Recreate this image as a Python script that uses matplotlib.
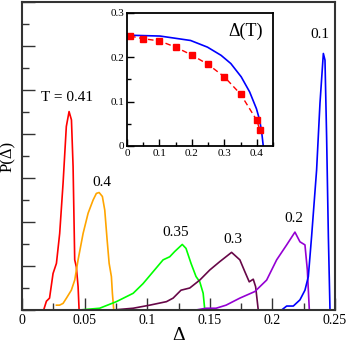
import matplotlib
matplotlib.use("Agg")
import matplotlib.pyplot as plt
from matplotlib.ticker import MultipleLocator

plt.rcParams['font.family'] = ['Liberation Serif', 'DejaVu Serif']
plt.rcParams['mathtext.fontset'] = 'stix'

# --- distributions P(Delta) at several T ---
d_041 = [0.0173, 0.0195, 0.0220, 0.0248, 0.0275, 0.0301, 0.0328, 0.0354, 0.0376, 0.0395, 0.0408, 0.0421, 0.0434, 0.0448, 0.0456]
p_041 = [0.00, 0.20, 0.27, 0.83, 1.06, 1.74, 2.88, 4.17, 4.51, 4.32, 3.26, 1.14, 0.98, 0.53, 0.00]

d_040 = [0.0275, 0.0300, 0.0328, 0.0355, 0.0394, 0.0421, 0.0448, 0.0488, 0.0528, 0.0568, 0.0594, 0.0616, 0.0642, 0.0661, 0.0680, 0.0696, 0.0714, 0.0722, 0.0733]
p_040 = [0.11, 0.11, 0.15, 0.27, 0.45, 0.68, 1.14, 1.74, 2.20, 2.50, 2.65, 2.67, 2.58, 2.27, 1.59, 1.06, 0.76, 0.38, 0.00]

d_035 = [0.046, 0.062, 0.0754, 0.0888, 0.0967, 0.1047, 0.1127, 0.118, 0.122, 0.128, 0.131, 0.135, 0.139, 0.142, 0.1447, 0.146]
p_035 = [0.00, 0.04, 0.19, 0.38, 0.60, 0.87, 1.14, 1.21, 1.33, 1.49, 1.40, 1.06, 0.76, 0.64, 0.38, 0.00]

d_030 = [0.0728, 0.0888, 0.102, 0.1154, 0.1207, 0.127, 0.134, 0.142, 0.150, 0.158, 0.1674, 0.174, 0.178, 0.1815, 0.1847, 0.1866, 0.1887]
p_030 = [0.00, 0.04, 0.11, 0.19, 0.27, 0.45, 0.50, 0.68, 0.91, 1.10, 1.31, 1.14, 0.87, 0.64, 0.70, 0.53, 0.00]

d_020 = [0.139, 0.147, 0.155, 0.163, 0.174, 0.186, 0.1954, 0.2034, 0.2114, 0.218, 0.222, 0.226, 0.2279, 0.2295]
p_020 = [0.00, 0.04, 0.04, 0.11, 0.27, 0.42, 0.68, 1.14, 1.48, 1.77, 1.55, 1.48, 0.91, 0.00]

d_010 = [0.2074, 0.2114, 0.2167, 0.222, 0.226, 0.2287, 0.2313, 0.2353, 0.238, 0.2407, 0.242, 0.2433, 0.2447, 0.246]
p_010 = [0.00, 0.09, 0.09, 0.23, 0.45, 0.76, 1.67, 3.18, 4.70, 5.83, 5.68, 3.94, 1.67, 0.00]

# curve labels: text, x, y
labels = ['T = 0.41', '0.4', '0.35', '0.3', '0.2', '0.1']
lab_x = [0.0357, 0.0639, 0.123, 0.1685, 0.2173, 0.238]
lab_y = [4.82, 2.89, 1.77, 1.61, 2.07, 6.27]

# --- inset: Delta(T) ---
T_line = [0.0, 0.102, 0.196, 0.248, 0.29, 0.32, 0.352, 0.378, 0.399, 0.409, 0.415, 0.42]
D_line = [0.250, 0.248, 0.238, 0.223, 0.2045, 0.186, 0.156, 0.122, 0.084, 0.058, 0.032, 0.0]
T_pts = [0.01, 0.05, 0.10, 0.15, 0.20, 0.25, 0.30, 0.35, 0.40, 0.41]
D_pts = [0.248, 0.242, 0.237, 0.223, 0.205, 0.184, 0.156, 0.117, 0.058, 0.035]

fig = plt.figure(figsize=(3.46, 3.46), dpi=100)
ax = fig.add_axes([22/346, 36/346, 313/346, 308/346])

lw = 1.2
ax.plot(d_041, p_041, color='#ff0000', lw=lw)
ax.plot(d_040, p_040, color='#ffa500', lw=lw)
ax.plot(d_035, p_035, color='#00ff00', lw=lw)
ax.plot(d_030, p_030, color='#670748', lw=lw)
ax.plot(d_020, p_020, color='#9400d3', lw=lw)
ax.plot(d_010, p_010, color='#0000ff', lw=lw)

ax.set_xlim(0, 0.25)
ax.set_ylim(0, 7)
ax.xaxis.set_major_locator(MultipleLocator(0.05))
ax.xaxis.set_minor_locator(MultipleLocator(0.025))
ax.yaxis.set_major_locator(MultipleLocator(1))
ax.yaxis.set_minor_locator(MultipleLocator(0.5))
ax.set_xticks([0, 0.05, 0.1, 0.15, 0.2, 0.25])
ax.set_xticklabels(['0', '0.05', '0.1', '0.15', '0.2', '0.25'])
ax.tick_params(which='both', direction='in', top=False, right=False, width=1.0, color='#333333')
ax.tick_params(which='major', length=9, labelsize=10, pad=3)
ax.tick_params(which='minor', length=5)
ax.tick_params(axis='y', labelleft=False)
for s in ax.spines.values():
    s.set_linewidth(1.5)
    s.set_color('#333333')

ax.set_xlabel('Δ', fontsize=14, labelpad=0)
ax.set_ylabel('P(Δ)', fontsize=12, labelpad=1)

for t, x, y in zip(labels, lab_x, lab_y):
    ax.text(x, y, t, fontsize=11, ha='center', va='center')

# inset
ins = fig.add_axes([127/346, 200/346, 146/346, 133/346])
ins.plot(T_line, D_line, color='#0000ff', lw=1.2)
ins.plot(T_pts, D_pts, color='#ff0000', lw=1.0, ls=(0, (4, 2.5)),
         marker='s', markersize=4, markeredgecolor='#ff0000')
ins.set_xlim(0, 0.45)
ins.set_ylim(0, 0.3)
ins.set_xticks([0, 0.1, 0.2, 0.3, 0.4])
ins.set_xticklabels(['0', '0.1', '0.2', '0.3', '0.4'])
ins.set_yticks([0, 0.1, 0.2, 0.3])
ins.set_yticklabels(['0', '0.1', '0.2', '0.3'])
ins.xaxis.set_minor_locator(MultipleLocator(0.05))
ins.yaxis.set_minor_locator(MultipleLocator(0.05))
ins.tick_params(which='both', direction='in', top=False, right=False, width=1.0)
ins.tick_params(which='major', length=5, labelsize=8, pad=2)
ins.tick_params(which='minor', length=3)
for s in ins.spines.values():
    s.set_linewidth(1.3)
ins.text(0.815, 0.865, 'Δ(T)', transform=ins.transAxes, fontsize=13, ha='center', va='center')

fig.savefig('out.png', dpi=100)
